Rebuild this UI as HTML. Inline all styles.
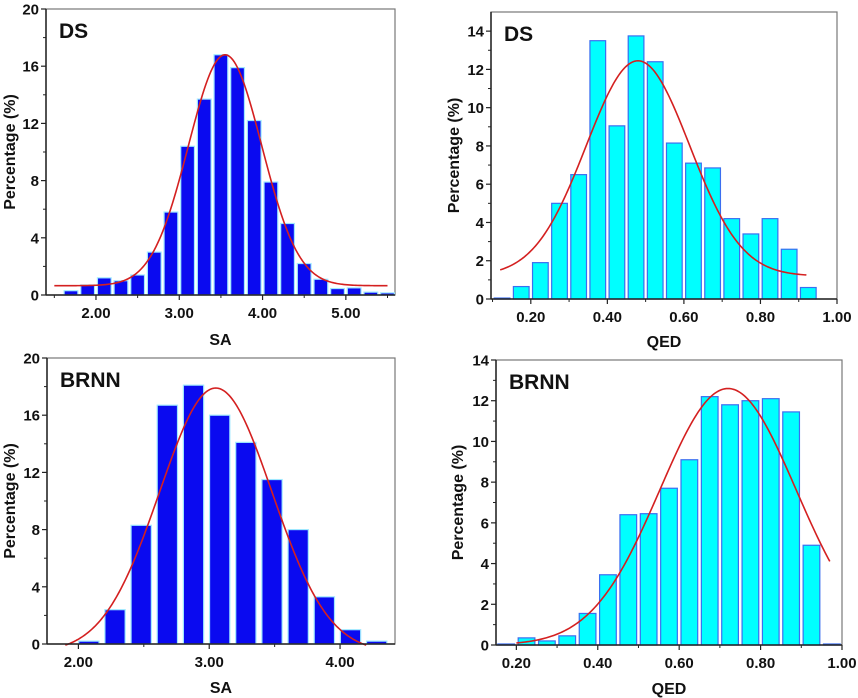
<!DOCTYPE html>
<html><head><meta charset="utf-8">
<style>
html,body{margin:0;padding:0;background:#fff;}
svg{display:block;font-family:"Liberation Sans",Arial,sans-serif;}
</style></head>
<body>
<svg id="fig" width="858" height="698" viewBox="0 0 858 698" xmlns="http://www.w3.org/2000/svg"></svg>
<script>
// Panel A: DS SA
const saDsCenters = [1.7,1.9,2.1,2.3,2.5,2.7,2.9,3.1,3.3,3.5,3.7,3.9,4.1,4.3,4.5,4.7,4.9,5.1,5.3,5.5];
const saDsValues = [0.3,0.7,1.2,1.0,1.4,3.0,5.8,10.4,13.7,16.8,15.9,12.2,7.9,5.0,2.2,1.1,0.45,0.5,0.2,0.15];
const saDsFit = {mean:3.55, sd:0.44, amp:16.15, base:0.65, from:1.5, to:5.5};
const saXTicksA = [2,3,4,5];
const saYTicksA = [0,4,8,12,16,20];
// Panel B: DS QED
const qedDsCenters = [0.125,0.175,0.225,0.275,0.325,0.375,0.425,0.475,0.525,0.575,0.625,0.675,0.725,0.775,0.825,0.875,0.925];
const qedDsValues = [0.05,0.65,1.9,5.0,6.5,13.5,9.05,13.75,12.4,8.15,7.1,6.85,4.2,3.4,4.2,2.6,0.6];
const qedDsFit = {mean:0.48, sd:0.135, amp:11.25, base:1.2, from:0.12, to:0.92};
const qedXTicks = [0.2,0.4,0.6,0.8,1.0];
const qedYTicks = [0,2,4,6,8,10,12,14];
// Panel C: BRNN SA
const saBrCenters = [2.08,2.28,2.48,2.68,2.88,3.08,3.28,3.48,3.68,3.88,4.08,4.28];
const saBrValues = [0.2,2.4,8.3,16.7,18.1,16.0,14.1,11.5,8.0,3.3,1.0,0.2];
const saBrFit = {mean:3.05, sd:0.43, amp:18.5, base:-0.6, from:1.9, to:4.2};
const saXTicksC = [2,3,4];
// Panel D: BRNN QED
const qedBrCenters = [0.175,0.225,0.275,0.325,0.375,0.425,0.475,0.525,0.575,0.625,0.675,0.725,0.775,0.825,0.875,0.925,0.975];
const qedBrValues = [0.05,0.35,0.2,0.45,1.55,3.45,6.4,6.45,7.7,9.1,12.2,11.8,12.0,12.1,11.45,4.9,0.05];
const qedBrFit = {mean:0.72, sd:0.167, amp:12.6, base:0, from:0.2, to:0.97};

const svg = document.getElementById('fig');
const NS = 'http://www.w3.org/2000/svg';
function mk(tag, attrs, parent){
  const e = document.createElementNS(NS, tag);
  for (const k in attrs) e.setAttribute(k, attrs[k]);
  (parent||svg).appendChild(e);
  return e;
}

function panel(cfg){
  const g = mk('g', {});
  
  
  const sx = v => cfg.L + (v - cfg.x0) / (cfg.x1 - cfg.x0) * (cfg.R - cfg.L);
  const sy = v => cfg.B - (v - cfg.y0) / (cfg.y1 - cfg.y0) * (cfg.B - cfg.T);
  const fr = mk('rect', {x:cfg.L, y:cfg.T, width:cfg.R-cfg.L, height:cfg.B-cfg.T, fill:'none', stroke:'#777', 'stroke-width':1.2}, g);
  
  
  for (let i = 0; i < cfg.centers.length; i++){
    const c = cfg.centers[i], v = cfg.values[i];
    const r = mk('rect', {x:sx(c - cfg.bw/2), y:sy(v), width:sx(c + cfg.bw/2) - sx(c - cfg.bw/2), height:sy(0) - sy(v),
      fill:cfg.fill, stroke:cfg.stroke, 'stroke-width':1.2}, g);
    
    
  }
  const f = cfg.fit; let d = '';
  for (let k = 0; k <= 200; k++){
    const x = f.from + (f.to - f.from) * k / 200;
    const y = f.base + f.amp * Math.exp(-Math.pow(x - f.mean, 2) / (2 * f.sd * f.sd));
    d += (k ? 'L' : 'M') + sx(x).toFixed(2) + ',' + sy(y).toFixed(2);
  }
  const p = mk('path', {d:d, fill:'none', stroke:'#d42020', 'stroke-width':1.6}, g);
  
  
  mk('line', {x1:cfg.L, y1:cfg.T, x2:cfg.L, y2:cfg.B, stroke:'#222', 'stroke-width':1.5}, g);
  mk('line', {x1:cfg.L, y1:cfg.B, x2:cfg.R, y2:cfg.B, stroke:'#222', 'stroke-width':1.5}, g);
  cfg.yTicks.forEach(t => {
    mk('line', {x1:cfg.L-5, y1:sy(t), x2:cfg.L, y2:sy(t), stroke:'#222', 'stroke-width':1.2}, g);
    const tx = mk('text', {x:cfg.L-7, y:sy(t)+5.5, 'text-anchor':'end', 'font-size':15, 'font-weight':'bold', fill:'#111'}, g);
    tx.textContent = t;
    
    
  });
  for (let t = cfg.y0 + cfg.yMinor; t < cfg.y1; t += cfg.yMinor * 2){
    mk('line', {x1:cfg.L-3, y1:sy(t), x2:cfg.L, y2:sy(t), stroke:'#222', 'stroke-width':1}, g);
  }
  cfg.xTicks.forEach(t => {
    mk('line', {x1:sx(t), y1:cfg.B, x2:sx(t), y2:cfg.B+5, stroke:'#222', 'stroke-width':1.2}, g);
    const tx = mk('text', {x:sx(t), y:cfg.B+23, 'text-anchor':'middle', 'font-size':15, 'font-weight':'bold', fill:'#111'}, g);
    tx.textContent = t.toFixed(2);
    
    
  });
  cfg.xMinor.forEach(t => {
    if (t > cfg.x0 && t < cfg.x1) mk('line', {x1:sx(t), y1:cfg.B, x2:sx(t), y2:cfg.B+3, stroke:'#222', 'stroke-width':1}, g);
  });
  const lb = mk('text', {x:cfg.L+13, y:cfg.T+29, 'font-size':21, 'font-weight':'bold', fill:'#111'}, g);
  lb.textContent = cfg.label;
  
  
  const xt = mk('text', {x:(cfg.L+cfg.R)/2, y:cfg.xTitleY, 'text-anchor':'middle', 'font-size':16, 'font-weight':'bold', fill:'#111'}, g);
  xt.textContent = cfg.xTitle;
  
  
  const cy = (cfg.T+cfg.B)/2;
  const yt = mk('text', {x:cfg.yTitleX, y:cy, 'text-anchor':'middle', 'font-size':16, 'font-weight':'bold', fill:'#111',
    transform:'rotate(-90 ' + cfg.yTitleX + ' ' + cy + ')'}, g);
  yt.textContent = 'Percentage (%)';
  
  
}

const blue = {fill:'#0a0af0', stroke:'#9fe8ff'};
const cyan = {fill:'#00ffff', stroke:'#3a6ef0'};

panel({name:'panel-ds-sa', L:46, R:395, T:9, B:295, x0:1.4, x1:5.59, y0:0, y1:20, yMinor:2,
  centers:saDsCenters, values:saDsValues, bw:0.165, fit:saDsFit, xTicks:saXTicksA, yTicks:saYTicksA,
  xMinor:[1.5,2.5,3.5,4.5,5.5], label:'DS', xTitle:'SA', xTitleY:345, yTitleX:15, ...blue});
panel({name:'panel-ds-qed', L:491, R:837, T:12, B:299, x0:0.096, x1:1.0, y0:0, y1:15, yMinor:1,
  centers:qedDsCenters, values:qedDsValues, bw:0.041, fit:qedDsFit, xTicks:qedXTicks, yTicks:qedYTicks,
  xMinor:[0.1,0.3,0.5,0.7,0.9], label:'DS', xTitle:'QED', xTitleY:347, yTitleX:459, ...cyan});
panel({name:'panel-brnn-sa', L:47, R:395, T:358, B:644, x0:1.76, x1:4.42, y0:0, y1:20, yMinor:2,
  centers:saBrCenters, values:saBrValues, bw:0.155, fit:saBrFit, xTicks:saXTicksC, yTicks:saYTicksA,
  xMinor:[2.5,3.5], label:'BRNN', xTitle:'SA', xTitleY:693, yTitleX:15, ...blue});
panel({name:'panel-brnn-qed', L:496, R:842, T:360, B:645, x0:0.15, x1:1.0, y0:0, y1:14, yMinor:1,
  centers:qedBrCenters, values:qedBrValues, bw:0.041, fit:qedBrFit, xTicks:qedXTicks, yTicks:qedYTicks,
  xMinor:[0.3,0.5,0.7,0.9], label:'BRNN', xTitle:'QED', xTitleY:694, yTitleX:463, ...cyan});
</script>
</body></html>
